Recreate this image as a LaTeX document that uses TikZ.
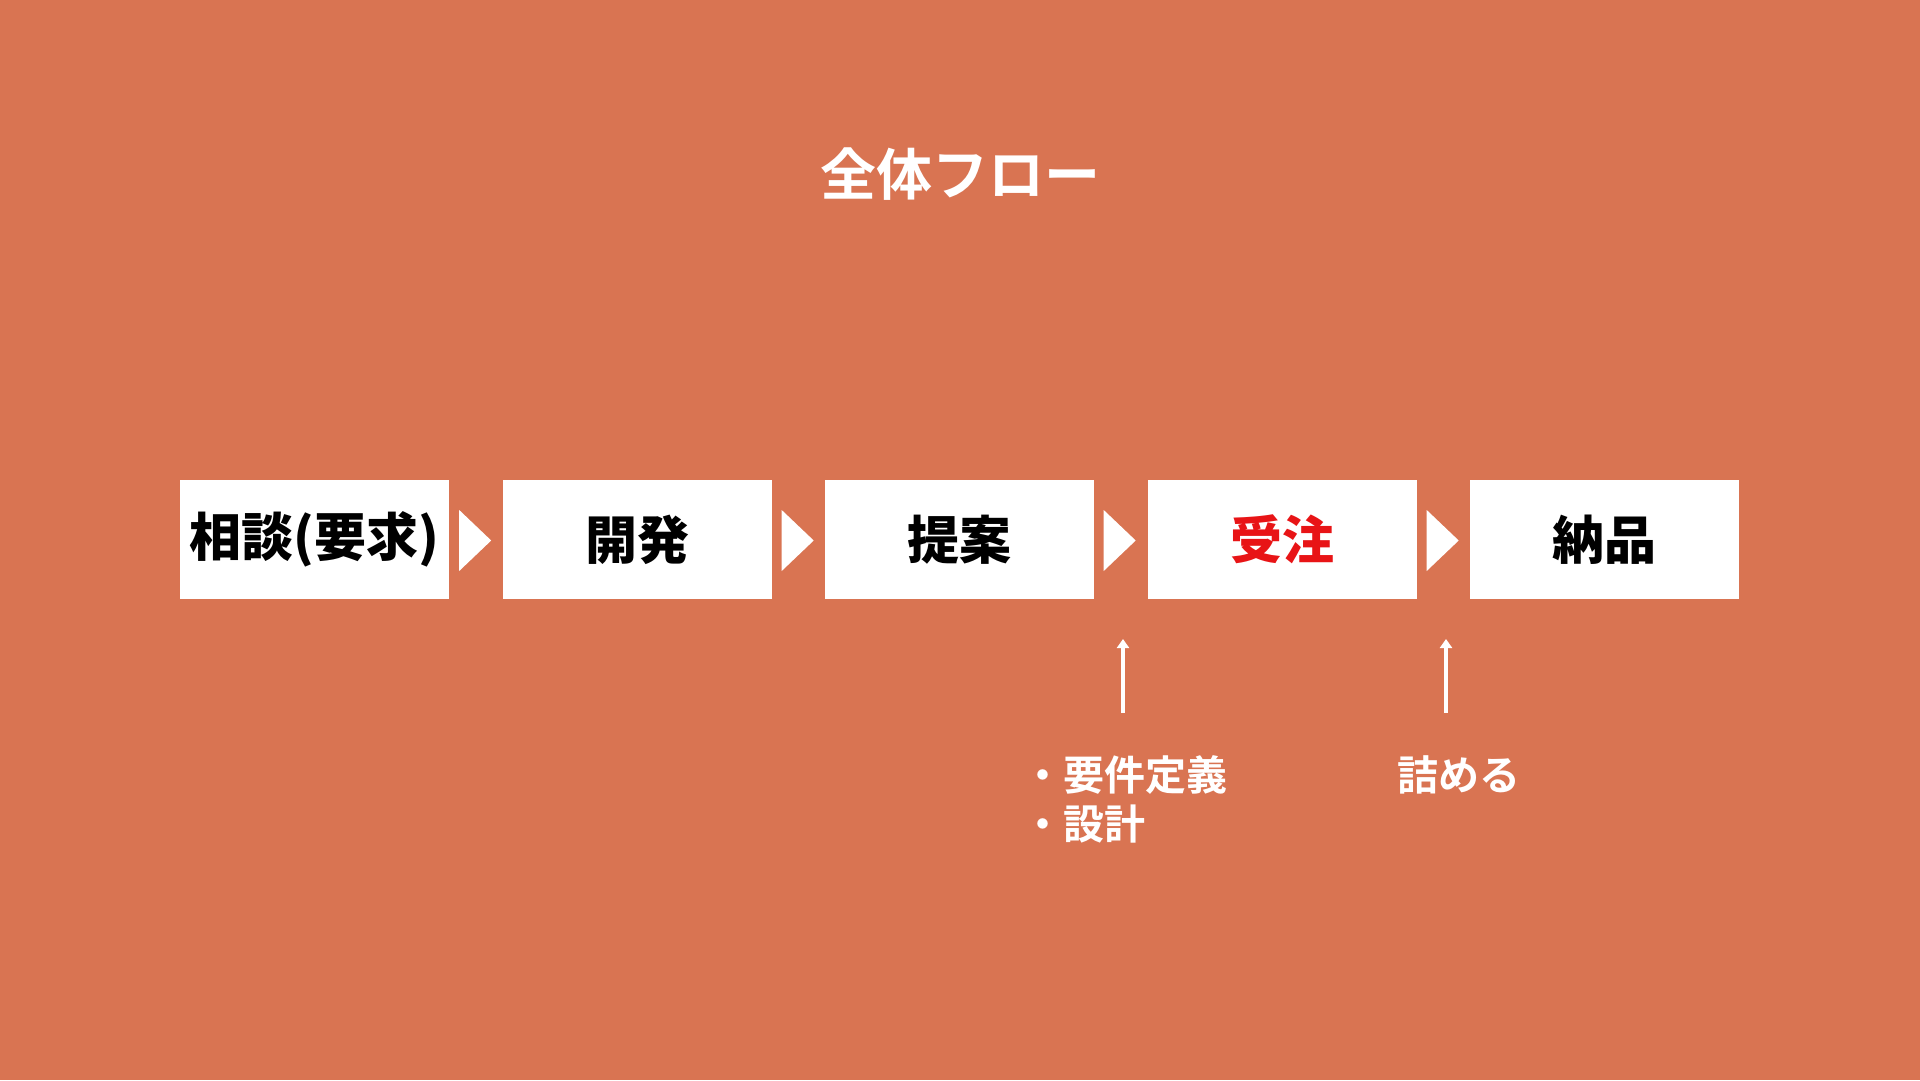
\documentclass[tikz,border=0pt]{standalone}
\usepackage{fontspec}
\setmainfont{Noto Sans CJK JP}[BoldFont={Noto Sans CJK JP Bold}]
\newfontfamily\heavy{Noto Sans CJK JP Black}
\usetikzlibrary{calc,arrows.meta}
\definecolor{bg}{RGB}{217,116,82}
\definecolor{redtxt}{RGB}{232,20,22}
\tikzset{
  stepbox/.style={fill=white, minimum width=269pt, minimum height=119pt, inner sep=0pt,
    font=\heavy\fontsize{52}{60}\selectfont, text=black},
  chevron/.style={fill=white},
  uparrow/.style={draw=white, line width=3.5pt, -{Triangle[length=9pt,width=12pt]}},
  note/.style={text=white, inner sep=0pt, font=\fontsize{41}{48}\selectfont\bfseries},
}
\begin{document}
\begin{tikzpicture}[x=1pt,y=-1pt]
\fill[bg] (0,0) rectangle (1920,1080);
\useasboundingbox (0,0) rectangle (1920,1080);
\node[text=white, font=\fontsize{56}{64}\selectfont\bfseries] (title) at (960,174) {全体フロー};
\node[stepbox] (b1) at (314.5,539.5) {相談(要求)};
\node[stepbox] (b2) at (637,539.5) {開発};
\node[stepbox] (b3) at (959,539.5) {提案};
\node[stepbox, text=redtxt] (b4) at (1282,539.5) {受注};
\node[stepbox] (b5) at (1604,539.5) {納品};
\foreach \b in {b1,b2,b3,b4}{
  \fill[chevron] ($(\b.east)+(10,-29.5)$) -- ($(\b.east)+(42,1)$) -- ($(\b.east)+(10,31.5)$) -- cycle;
}
\node[note, anchor=west] (l1) at (1022,775) {・要件定義};
\node[note, anchor=west] (l2) at (1022,824) {・設計};
\node[note] (l3) at (1459,775) {詰める};
\coordinate (a1s) at (1123,713);
\coordinate (a1e) at (1123,639);
\coordinate (a2s) at (1446,713);
\coordinate (a2e) at (1446,639);
\draw[uparrow] (a1s) -- (a1e);
\draw[uparrow] (a2s) -- (a2e);
\end{tikzpicture}
\end{document}
